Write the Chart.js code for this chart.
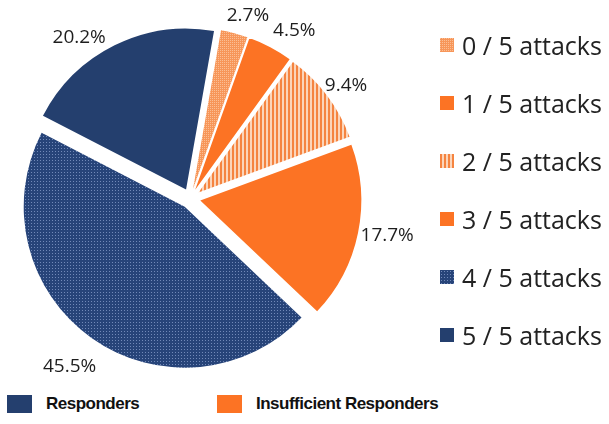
<!DOCTYPE html>
<html>
<head>
<meta charset="utf-8">
<script src="https://cdn.jsdelivr.net/npm/chart.js@4.4.0/dist/chart.umd.min.js"></script>
<style>
  html, body { margin: 0; padding: 0; background: #fff; }
  #wrap { position: relative; width: 609px; height: 424px; overflow: hidden; }
  #pie { position: absolute; left: 0; top: 0; }
  #legend-right { position: absolute; left: 440px; top: 16px; }
  #legend-right .item { height: 58px; display: flex; align-items: center;
    font-family: "Open Sans", sans-serif; font-size: 25px; color: #222; white-space: nowrap; }
  #legend-right canvas { margin-right: 8px; }
  #legend-bottom { position: absolute; left: 0; top: 395px; width: 609px; height: 18px; }
  #legend-bottom .grp { position: absolute; top: 0; display: flex; align-items: center; height: 18px;
    font-family: "Liberation Sans", Arial, sans-serif; font-weight: bold; font-size: 17px;
    letter-spacing: -0.5px; color: #111; }
  #legend-bottom .sw { width: 25px; height: 18px; margin-right: 14px; }
</style>
</head>
<body>
<div id="wrap">
  <canvas id="pie" width="420" height="380"></canvas>
  <div id="legend-right"></div>
  <div id="legend-bottom"></div>
</div>
<script>
// data
const attackLabels = ['0 / 5 attacks', '1 / 5 attacks', '2 / 5 attacks', '3 / 5 attacks', '4 / 5 attacks', '5 / 5 attacks'];
const shares = [2.7, 4.5, 9.4, 17.7, 45.5, 20.2];
const groupLabels = ['Responders', 'Insufficient Responders'];
const groupColors = ['#243F6E', '#FC7324'];

// look
const EXPLODE = 10;   // px each slice is pulled out
// Excel-style label placement: extra angle (deg) and distance past the rim (px)
const labelNudge = [2.6, 4, 1.1, -1.2, 0.6, -8.5];
const labelDist = [22, 27, 21.5, 29, 35, 26];

function tile(w, h, paint) {
    const c = document.createElement('canvas');
    c.width = w; c.height = h;
    const g = c.getContext('2d');
    paint(g);
    return g.createPattern(c, 'repeat');
}

const orangeDots = tile(2, 2, g => {
    g.fillStyle = '#F79659'; g.fillRect(0, 0, 2, 2);
    g.fillStyle = '#FBBE94'; g.fillRect(0, 0, 1, 1);
});
const orangeStripes = tile(4, 1, g => {
    g.fillStyle = '#F58440'; g.fillRect(0, 0, 2, 1);
    g.fillStyle = '#FBD5BA'; g.fillRect(2, 0, 2, 1);
});
const navyDots = tile(3, 3, g => {
    g.fillStyle = '#274479'; g.fillRect(0, 0, 3, 3);
    g.fillStyle = '#7189B8'; g.fillRect(1, 1, 1, 1);
});

const fills = [orangeDots, '#FC7324', orangeStripes, '#FC7324', navyDots, '#243F6E'];

// pull every slice out along its middle angle
const explode = {
    id: 'explode',
    afterDatasetsUpdate(chart) {
        chart.getDatasetMeta(0).data.forEach(arc => {
            const mid = (arc.startAngle + arc.endAngle) / 2;
            arc.x += Math.cos(mid) * EXPLODE;
            arc.y += Math.sin(mid) * EXPLODE;
        });
    }
};

const pctLabels = {
    id: 'pctLabels',
    afterDatasetsDraw(chart) {
        const ctx = chart.ctx;
        ctx.save();
        ctx.font = '19px "Open Sans", sans-serif';
        ctx.fillStyle = '#1e1e1e';
        ctx.textAlign = 'center';
        ctx.textBaseline = 'middle';
        chart.getDatasetMeta(0).data.forEach((arc, i) => {
            const mid = (arc.startAngle + arc.endAngle) / 2 + labelNudge[i] * Math.PI / 180;
            const d = arc.outerRadius + labelDist[i];
            ctx.fillText(shares[i].toFixed(1) + '%', arc.x + Math.cos(mid) * d, arc.y + Math.sin(mid) * d + 1);
        });
        ctx.restore();
    }
};

new Chart(document.getElementById('pie'), {
    type: 'pie',
    data: {
        labels: attackLabels,
        datasets: [{
            data: shares,
            backgroundColor: fills,
            borderWidth: 0,
            rotation: 10,
            radius: 161
        }]
    },
    options: {
        responsive: false,
        animation: false,
        events: [],
        layout: { padding: { left: 0, right: 39, top: 17, bottom: 0 } },
        plugins: { legend: { display: false }, tooltip: { enabled: false } }
    },
    plugins: [explode, pctLabels]
});

// right legend
const rl = document.getElementById('legend-right');
attackLabels.forEach((txt, i) => {
    const row = document.createElement('div');
    row.className = 'item';
    const sw = document.createElement('canvas');
    sw.width = 14; sw.height = 14;
    const g = sw.getContext('2d');
    g.fillStyle = fills[i];
    g.fillRect(0, 0, 14, 14);
    row.appendChild(sw);
    row.appendChild(document.createTextNode(txt));
    rl.appendChild(row);
});

// bottom legend
const bl = document.getElementById('legend-bottom');
const groupX = [7, 217];
groupLabels.forEach((txt, i) => {
    const grp = document.createElement('div');
    grp.className = 'grp';
    grp.style.left = groupX[i] + 'px';
    grp.innerHTML = `<div class="sw" style="background:${groupColors[i]}"></div><span>${txt}</span>`;
    bl.appendChild(grp);
});
</script>
</body>
</html>
